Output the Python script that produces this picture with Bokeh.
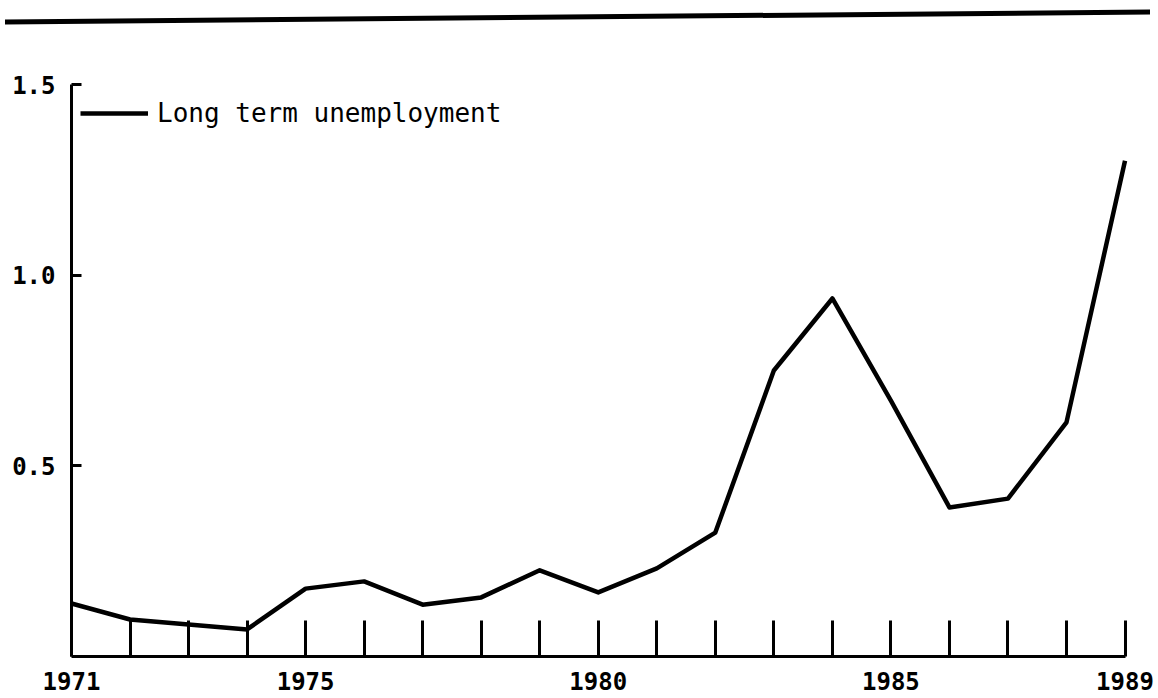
from bokeh.plotting import figure
from bokeh.models import Range1d, FixedTicker, Legend, LegendItem, PrintfTickFormatter, Div
from bokeh.layouts import column
from bokeh.embed import file_html
from bokeh.resources import INLINE

years = list(range(1971, 1990))
long_term = [0.139, 0.097, 0.084, 0.071, 0.178, 0.197, 0.136, 0.155, 0.226, 0.168,
             0.231, 0.325, 0.750, 0.939, 0.671, 0.391, 0.414, 0.614, 1.300]
series_name = "Long term unemployment"
x_tick_labels = {1971: "1971", 1975: "1975", 1980: "1980", 1985: "1985", 1989: "1989"}
y_ticks = [0.5, 1.0, 1.5]

MONO = "DejaVu Sans Mono"

# decorative rule across the top of the page (slightly skewed, as in the scan)
top = Div(width=1158, height=28, margin=(0, 0, 0, 0),
          text='<svg width="1158" height="28" style="display:block">'
               '<line x1="5" y1="22" x2="1150" y2="12" stroke="black" stroke-width="5"/></svg>')

p = figure(width=1158, height=670, output_backend="svg", toolbar_location=None,
           x_range=Range1d(1971, 1989.572), y_range=Range1d(0, 1.647),
           min_border_left=71, min_border_right=0, min_border_top=0, min_border_bottom=42)
p.grid.visible = False
p.outline_line_color = None

r = p.line(x=years, y=long_term, line_width=4.5, line_color="black", line_join="round")

xa = p.xaxis[0]
xa.ticker = FixedTicker(ticks=years)
xa.major_label_overrides = {y: x_tick_labels.get(y, "") for y in years}
xa.bounds = (1971, 1989)
xa.axis_line_width = 3
xa.major_tick_in = 36
xa.major_tick_out = 0
xa.major_tick_line_width = 3
xa.minor_tick_line_color = None
xa.major_label_standoff = 15
xa.major_label_text_font = MONO
xa.major_label_text_font_style = "bold"
xa.major_label_text_font_size = "24px"
xa.major_label_text_color = "black"

ya = p.yaxis[0]
ya.ticker = FixedTicker(ticks=y_ticks)
ya.formatter = PrintfTickFormatter(format="%.1f")
ya.bounds = (0, 1.5)
ya.axis_line_width = 3
ya.major_tick_in = 10
ya.major_tick_out = 0
ya.major_tick_line_width = 3
ya.minor_tick_line_color = None
ya.major_label_standoff = 16
ya.major_label_text_font = MONO
ya.major_label_text_font_style = "bold"
ya.major_label_text_font_size = "24px"
ya.major_label_text_color = "black"

legend = Legend(items=[LegendItem(label=series_name, renderers=[r])],
                location="top_left", margin=9, padding=0,
                glyph_width=68, glyph_height=152, label_height=152,
                label_standoff=9, border_line_color=None, background_fill_alpha=0,
                label_text_font=MONO, label_text_font_size="26px",
                label_text_color="black")
p.add_layout(legend)

layout = column(top, p, spacing=0)
open("out.html", "w").write(file_html(layout, INLINE))
